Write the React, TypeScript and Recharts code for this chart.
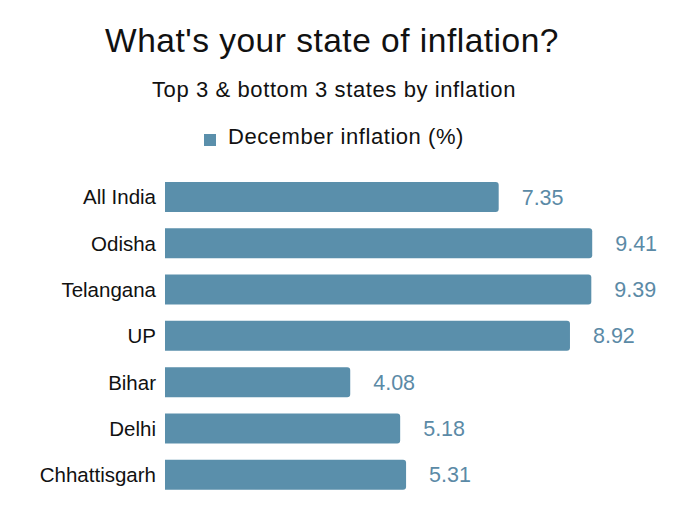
import React from 'react';
import { BarChart, Bar, XAxis, YAxis, Legend, LabelList } from 'recharts';

const states = ['All India', 'Odisha', 'Telangana', 'UP', 'Bihar', 'Delhi', 'Chhattisgarh'];
const inflation = [7.35, 9.41, 9.39, 8.92, 4.08, 5.18, 5.31];

const data = states.map((state, i) => ({ state, inflation: inflation[i] }));

const FONT = '"Liberation Sans", Arial, sans-serif';
const BAR = '#5a8fab';

const App: React.FC = () => {
    return (
        <div style={{ position: 'absolute', left: 0, top: 0, width: 680, height: 519, background: '#fff', fontFamily: FONT }}>
            <div style={{ position: 'absolute', top: 24, left: 0, width: 664, textAlign: 'center', fontSize: 33.5, lineHeight: '33px', letterSpacing: 0.5, color: '#111' }}>
                What's your state of inflation?
            </div>
            <div style={{ position: 'absolute', top: 79, left: 0, width: 668, textAlign: 'center', fontSize: 22, lineHeight: '22px', letterSpacing: 0.6, color: '#111' }}>
                Top 3 &amp; bottom 3 states by inflation
            </div>
            <BarChart
                width={680}
                height={519}
                data={data}
                layout="vertical"
                margin={{ top: 174, right: 61, left: 0, bottom: 21 }}
            >
                <XAxis type="number" domain={[0, 10]} hide />
                <YAxis
                    type="category"
                    dataKey="state"
                    width={165}
                    tickLine={false}
                    axisLine={false}
                    tickMargin={3}
                    tick={{ fill: '#111', fontSize: 20.5, fontFamily: FONT }}
                />
                <Legend
                    verticalAlign="middle"
                    iconType="square"
                    iconSize={12}
                    wrapperStyle={{ top: 125, left: 4, width: 670, lineHeight: '24px' }}
                    formatter={() => (
                        <span style={{ color: '#111', fontSize: 22, letterSpacing: 0.55, marginLeft: 8, fontFamily: FONT }}>
                            December inflation (%)
                        </span>
                    )}
                />
                <Bar dataKey="inflation" fill={BAR} barSize={30} radius={[0, 3, 3, 0]} isAnimationActive={false}>
                    <LabelList
                        dataKey="inflation"
                        position="right"
                        offset={23}
                        fill="#5b8aa6"
                        fontSize={21.5}
                        fontFamily={FONT}
                        formatter={(v: any) => Number(v).toFixed(2)}
                    />
                </Bar>
            </BarChart>
        </div>
    );
};

export default App;
